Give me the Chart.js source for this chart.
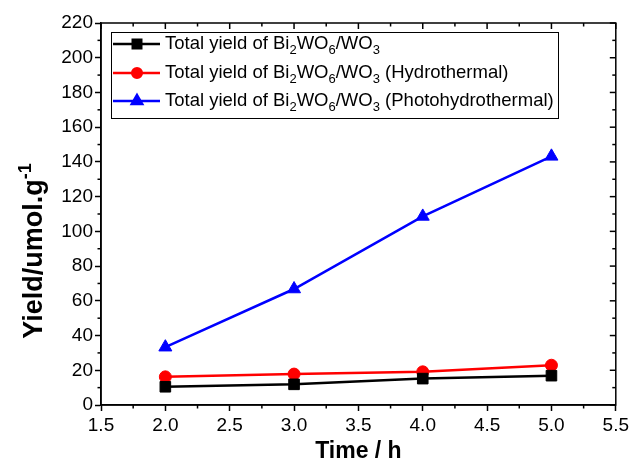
<!DOCTYPE html>
<html>
<head>
<meta charset="utf-8">
<script src="https://cdn.jsdelivr.net/npm/chart.js@4.4.1/dist/chart.umd.min.js"></script>
<style>
  html, body { margin: 0; padding: 0; background: #fff; }
  #wrap { width: 632px; height: 470px; }
</style>
</head>
<body>
<div id="wrap"><canvas id="c" width="632" height="470"></canvas></div>
<script>
// ---- data ----
const timeH = [2.0, 3.0, 4.0, 5.0];
const yieldBase = [10.5, 11.9, 15.2, 16.9];
const yieldHydro = [16.2, 17.8, 19.1, 22.9];
const yieldPhoto = [33.3, 66.8, 108.6, 143.2];
const seriesLabels = [
  'Total yield of Bi₂WO₆/WO₃',
  'Total yield of Bi₂WO₆/WO₃ (Hydrothermal)',
  'Total yield of Bi₂WO₆/WO₃ (Photohydrothermal)'
];
const xTickLabels = ['1.5','2.0','2.5','3.0','3.5','4.0','4.5','5.0','5.5'];
const yTickLabels = ['0','20','40','60','80','100','120','140','160','180','200','220'];
const xTitle = 'Time / h';
const yTitle = 'Yield/umol.g⁻¹';

const FONT = '"Liberation Sans", Arial, sans-serif';
const toPts = (ys) => timeH.map((x, i) => ({ x, y: ys[i] }));

const SUB = { '₀':'0','₁':'1','₂':'2','₃':'3','₄':'4','₅':'5','₆':'6','₇':'7','₈':'8','₉':'9' };
const SUP = { '⁻':'-','¹':'1','²':'2','³':'3','⁰':'0' };
function segments(str) {
  const out = [];
  for (const ch of str) {
    let kind = 'n', c = ch;
    if (SUB[ch]) { kind = 'sub'; c = SUB[ch]; }
    else if (SUP[ch]) { kind = 'sup'; c = SUP[ch]; }
    const last = out[out.length - 1];
    if (last && last.kind === kind) last.text += c; else out.push({ kind, text: c });
  }
  return out;
}
function drawRich(ctx, str, x, y, size, weight, measureOnly) {
  let cx = x;
  for (const s of segments(str)) {
    const fs = s.kind === 'n' ? size : Math.round(size * 0.68);
    ctx.font = `${weight} ${fs}px ${FONT}`;
    const dy = s.kind === 'sub' ? size * 0.34 : (s.kind === 'sup' ? -size * 0.42 : 0);
    if (!measureOnly) ctx.fillText(s.text, cx, y + dy);
    cx += ctx.measureText(s.text).width;
  }
  return cx - x;
}

const decor = {
  id: 'decor',
  afterDraw(chart) {
    const { ctx, chartArea: a, scales: { x, y } } = chart;
    ctx.save();
    ctx.strokeStyle = '#000';
    ctx.lineWidth = 1.5;
    const ln = (x1, y1, x2, y2) => { ctx.beginPath(); ctx.moveTo(x1, y1); ctx.lineTo(x2, y2); ctx.stroke(); };
    // frame
    ctx.strokeRect(a.left, a.top, a.right - a.left, a.bottom - a.top);
    // minor ticks + mirrored ticks
    for (let v = 0; v <= 220; v += 10) {
      const py = y.getPixelForValue(v);
      const major = v % 20 === 0;
      if (!major) ln(a.left - 3.5, py, a.left, py);
      ln(a.right - (major ? 6 : 3.5), py, a.right, py);
    }
    for (let v = 1.5; v <= 5.5001; v += 0.25) {
      const px = x.getPixelForValue(v);
      const major = Math.abs(v * 2 - Math.round(v * 2)) < 1e-6;
      if (!major) ln(px, a.bottom, px, a.bottom + 3.5);
      ln(px, a.top, px, a.top + (major ? 6 : 3.5));
    }
    // y title
    ctx.fillStyle = '#000';
    ctx.textBaseline = 'alphabetic';
    ctx.textAlign = 'left';
    const ySize = 27;
    const w = drawRich(ctx, yTitle, 0, 0, ySize, 'bold', true);
    ctx.save();
    ctx.translate(42, 251);
    ctx.rotate(-Math.PI / 2);
    drawRich(ctx, yTitle, -w / 2, 0, ySize, 'bold', false);
    ctx.restore();

    // legend
    const lx = 111, ly = 32, lw = 447, lh = 86;
    ctx.lineWidth = 1;
    ctx.strokeStyle = '#000';
    ctx.strokeRect(lx + 0.5, ly + 0.5, lw, lh);
    const rows = [44, 73, 101];
    chart.data.datasets.forEach((ds, i) => {
      const ry = rows[i];
      ctx.strokeStyle = ds.borderColor;
      ctx.lineWidth = 2.5;
      ln(113, ry, 160, ry);
      Chart.helpers.drawPoint(ctx, {
        pointStyle: ds.pointStyle, radius: ds.pointRadius * 0.8, rotation: 0,
        borderWidth: 1
      }, 137, ry);
      ctx.fillStyle = ds.borderColor;
      ctx.fill();
      ctx.fillStyle = '#000';
      ctx.textBaseline = 'middle';
      drawRich(ctx, ds.label, 165, ry, 18.5, 'normal', false);
    });
    ctx.restore();
  }
};

const mkDs = (label, data, color, style, r) => ({
  label, data: toPts(data), borderColor: color, backgroundColor: color,
  pointBackgroundColor: color, pointBorderColor: color, pointStyle: style,
  pointRadius: r, pointBorderWidth: 1, borderWidth: 2.5, tension: 0, fill: false
});

new Chart(document.getElementById('c'), {
  type: 'line',
  data: {
    datasets: [
      mkDs(seriesLabels[0], yieldBase, '#000000', 'rect', 7.5),
      mkDs(seriesLabels[1], yieldHydro, '#ff0000', 'circle', 6),
      mkDs(seriesLabels[2], yieldPhoto, '#0000ff', 'triangle', 7.5)
    ]
  },
  options: {
    responsive: false,
    animation: false,
    devicePixelRatio: 1,
    layout: { padding: { left: 0, top: 23, right: 13, bottom: 0 } },
    plugins: { legend: { display: false }, tooltip: { enabled: false } },
    scales: {
      x: {
        type: 'linear', min: 1.5, max: 5.5,
        afterBuildTicks: (s) => { s.ticks = xTickLabels.map(t => ({ value: parseFloat(t) })); },
        ticks: { callback: (v) => xTickLabels.find(t => parseFloat(t) === v) ?? '', color: '#000', font: { family: FONT, size: 19 }, padding: 3, maxRotation: 0, autoSkip: false },
        grid: { display: true, drawOnChartArea: false, drawTicks: true, tickLength: 6, tickWidth: 1.5, color: '#000' },
        border: { display: true, color: '#000', width: 1.5 },
        title: { display: true, text: xTitle, color: '#000', font: { family: FONT, size: 23, weight: 'bold' }, padding: { top: 3, bottom: 5 } },
        afterFit: (s) => { s.height = 65; }
      },
      y: {
        type: 'linear', min: 0, max: 220,
        afterBuildTicks: (s) => { s.ticks = yTickLabels.map(t => ({ value: parseFloat(t) })); },
        ticks: { callback: (v) => yTickLabels.find(t => parseFloat(t) === v) ?? '', color: '#000', font: { family: FONT, size: 19 }, padding: 2, autoSkip: false },
        grid: { display: true, drawOnChartArea: false, drawTicks: true, tickLength: 6, tickWidth: 1.5, color: '#000' },
        border: { display: true, color: '#000', width: 1.5 },
        afterFit: (s) => { s.width = 101; }
      }
    }
  },
  plugins: [decor]
});
</script>
</body>
</html>
